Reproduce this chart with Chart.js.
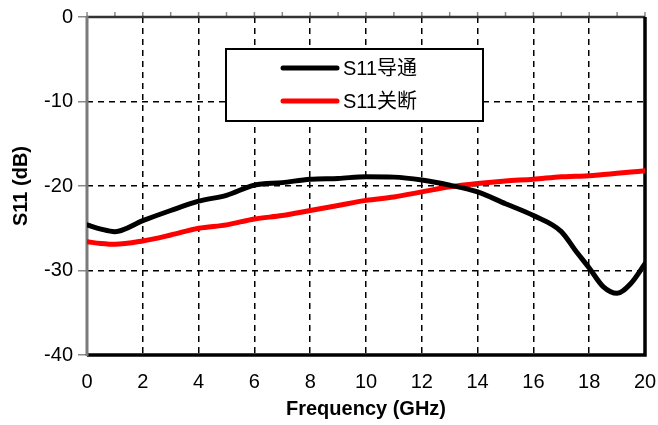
<!DOCTYPE html>
<html>
<head>
<meta charset="utf-8">
<script src="https://cdn.jsdelivr.net/npm/chart.js@4/dist/chart.umd.min.js"></script>
<style>
  html, body { margin: 0; padding: 0; background: #fff; }
  #wrap { width: 658px; height: 425px; }
</style>
</head>
<body>
<div id="wrap"><canvas id="c" width="658" height="425"></canvas></div>
<script>
/* S11 vs frequency — on / off states */

const FONT = "'Liberation Sans', Arial, 'Noto Sans CJK SC', sans-serif";

const freq = [0, 0.5, 1, 2, 3, 4, 5, 6, 7, 8, 9, 10, 11, 12, 13, 14, 15, 16, 17, 17.5, 18, 18.5, 19, 19.5, 20];
const s11On = [-24.6, -25.1, -25.4, -24.1, -22.9, -21.8, -21.1, -19.9, -19.6, -19.2, -19.1, -18.9, -18.95, -19.3, -19.9, -20.7, -22.1, -23.5, -25.4, -27.6, -29.7, -31.9, -32.7, -31.5, -29.2];
const s11Off = [-26.6, -26.8, -26.9, -26.5, -25.8, -25.0, -24.6, -23.9, -23.5, -22.9, -22.3, -21.7, -21.3, -20.7, -20.1, -19.7, -19.4, -19.2, -18.9, -18.85, -18.8, -18.65, -18.5, -18.35, -18.2];
const seriesNames = ['S11导通', 'S11关断'];
const xTicks = [0, 2, 4, 6, 8, 10, 12, 14, 16, 18, 20];
const yTicks = [0, -10, -20, -30, -40];

function pts(ys) {
    return freq.map((x, i) => ({ x: x, y: ys[i] }));
}

/* ── frame + top minor ticks ─────────────────────────────── */

const framePlugin = {
    id: 'frame',
    beforeDatasetsDraw(chart) {
        const { ctx, chartArea: a, scales } = chart;
        ctx.save();
        // top minor ticks every 1 GHz
        ctx.strokeStyle = '#888';
        ctx.lineWidth = 1.5;
        for (let v = 0; v <= 20; v++) {
            const px = scales.x.getPixelForValue(v);
            ctx.beginPath();
            ctx.moveTo(px, a.top - 5);
            ctx.lineTo(px, a.top);
            ctx.stroke();
        }
        // top border
        ctx.strokeStyle = '#333';
        ctx.lineWidth = 2.5;
        ctx.beginPath();
        ctx.moveTo(a.left, a.top);
        ctx.lineTo(a.right, a.top);
        ctx.stroke();
        // right + bottom borders
        ctx.strokeStyle = '#000';
        ctx.lineWidth = 3.5;
        ctx.beginPath();
        ctx.moveTo(a.right, a.top);
        ctx.lineTo(a.right, a.bottom);
        ctx.lineTo(a.left, a.bottom);
        ctx.stroke();
        // left border (grey)
        ctx.strokeStyle = '#7a7a7a';
        ctx.lineWidth = 3;
        ctx.beginPath();
        ctx.moveTo(a.left, a.top - 1);
        ctx.lineTo(a.left, a.bottom + 1);
        ctx.stroke();
        ctx.restore();
    }
};

/* ── boxed legend inside plot ────────────────────────────── */

const boxLegend = {
    id: 'boxLegend',
    afterDatasetsDraw(chart) {
        const { ctx, chartArea: a } = chart;
        const x0 = a.left + 139, y0 = a.top + 32, w = 257, h = 72;
        ctx.save();
        ctx.fillStyle = '#fff';
        ctx.fillRect(x0, y0, w, h);
        ctx.strokeStyle = '#000';
        ctx.lineWidth = 2;
        ctx.strokeRect(x0, y0, w, h);
        ctx.font = '20px ' + FONT;
        ctx.textBaseline = 'middle';
        chart.data.datasets.forEach((ds, i) => {
            const yy = y0 + 19 + i * 33;
            ctx.strokeStyle = ds.borderColor;
            ctx.lineWidth = 5;
            ctx.lineCap = 'round';
            ctx.beginPath();
            ctx.moveTo(x0 + 57, yy);
            ctx.lineTo(x0 + 111, yy);
            ctx.stroke();
            ctx.fillStyle = '#000';
            ctx.fillText(ds.label, x0 + 117, yy + 1);
        });
        ctx.restore();
    }
};

new Chart(document.getElementById('c').getContext('2d'), {
    type: 'line',
    data: {
        datasets: [
            { label: seriesNames[0], data: pts(s11On), borderColor: '#000', borderWidth: 5 },
            { label: seriesNames[1], data: pts(s11Off), borderColor: '#ff0000', borderWidth: 5 }
        ]
    },
    options: {
        responsive: false,
        animation: false,
        elements: {
            point: { radius: 0 },
            line: { cubicInterpolationMode: 'monotone', borderCapStyle: 'round' }
        },
        layout: { padding: { top: 16, right: 13, left: 5, bottom: 0 } },
        plugins: { legend: { display: false }, tooltip: { enabled: false } },
        scales: {
            x: {
                type: 'linear',
                min: 0, max: 20,
                afterBuildTicks: s => { s.ticks = xTicks.map(v => ({ value: v })); },
                afterFit: s => { s.height = 70; },
                border: { display: false, dash: [6, 5] },
                grid: { color: '#000', lineWidth: 1.5, drawTicks: true, tickLength: 15, tickColor: 'rgba(0,0,0,0)', tickBorderDash: [] },
                ticks: { color: '#000', font: { family: FONT, size: 20 }, padding: 0, maxRotation: 0 },
                title: { display: true, text: 'Frequency (GHz)', color: '#000', font: { family: FONT, size: 20, weight: 'bold' }, padding: { top: 4 } }
            },
            y: {
                min: -40, max: 0,
                afterBuildTicks: s => { s.ticks = yTicks.map(v => ({ value: v })); },
                afterFit: s => { s.width = 82; },
                border: { display: false, dash: [6, 5] },
                grid: { color: '#000', lineWidth: 1.5, tickColor: '#888', tickLength: 9, tickBorderDash: [] },
                ticks: { color: '#000', font: { family: FONT, size: 20 }, padding: 5 },
                title: { display: true, text: 'S11 (dB)', color: '#000', font: { family: FONT, size: 20, weight: 'bold' }, padding: { bottom: 4 } }
            }
        }
    },
    plugins: [framePlugin, boxLegend]
});
</script>
</body>
</html>
